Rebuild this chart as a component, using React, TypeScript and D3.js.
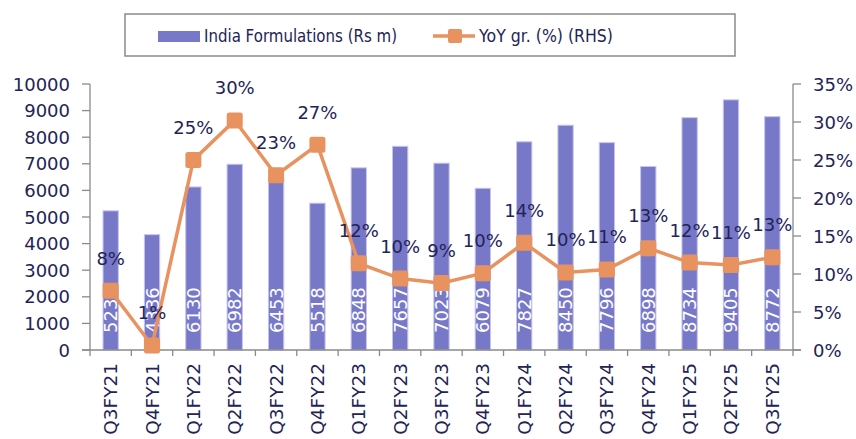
import React from "react";
import * as d3 from "d3";

const categories = ["Q3FY21","Q4FY21","Q1FY22","Q2FY22","Q3FY22","Q4FY22","Q1FY23","Q2FY23","Q3FY23","Q4FY23","Q1FY24","Q2FY24","Q3FY24","Q4FY24","Q1FY25","Q2FY25","Q3FY25"];
const formulations = [5232,4336,6130,6982,6453,5518,6848,7657,7023,6079,7827,8450,7796,6898,8734,9405,8772];
const yoy = [7.8,0.6,25.0,30.2,23.0,27.0,11.4,9.4,8.8,10.1,14.1,10.2,10.6,13.4,11.5,11.2,12.2];
const yoyLabels = ["8%","1%","25%","30%","23%","27%","12%","10%","9%","10%","14%","10%","11%","13%","12%","11%","13%"];
const leftTicks = [0,1000,2000,3000,4000,5000,6000,7000,8000,9000,10000];
const rightTicks = [0,5,10,15,20,25,30,35];

const BAR = "#7878C9";
const ORANGE = "#E8925F";
const TEXT = "#232357";
const AXIS = "#8a8a8a";
const FONT = "DejaVu Sans, sans-serif";

export default function App() {
  const W = 856, H = 439;
  const x0 = 90, x1 = 793, yTop = 84, yBot = 350;
  const x = d3.scaleBand<string>().domain(categories).range([x0, x1]).paddingInner(0).paddingOuter(0);
  const yL = d3.scaleLinear().domain([0, 10000]).range([yBot, yTop]);
  const yR = d3.scaleLinear().domain([0, 35]).range([yBot, yTop]);
  const bw = x.bandwidth() * 0.37;
  const cx = (c: string) => (x(c) as number) + x.bandwidth() / 2;
  const line = d3.line<number>().x((_, i) => cx(categories[i])).y((v) => yR(v));
  const ms = 16;
  return (
    <svg width={W} height={H} style={{ position: "absolute", left: 0, top: 0, background: "#fff" }} fontFamily={FONT}>
      {/* legend */}
      <rect x={125} y={14} width={610} height={42} fill="#fff" stroke={AXIS} strokeWidth={1.5} />
      <rect x={158} y={31} width={42} height={11} fill={BAR} />
      <text x={204} y={42} fontSize={18} fill={TEXT} textLength={193} lengthAdjust="spacingAndGlyphs">India Formulations (Rs m)</text>
      <line x1={433} x2={475} y1={36} y2={36} stroke={ORANGE} strokeWidth={3.5} />
      <rect x={448} y={29} width={14} height={14} rx={2} fill={ORANGE} />
      <text x={479} y={42} fontSize={18} fill={TEXT} textLength={134} lengthAdjust="spacingAndGlyphs">YoY gr. (%) (RHS)</text>

      {/* bars */}
      {formulations.map((v, i) => (
        <rect key={i} x={cx(categories[i]) - bw / 2} y={yL(v)} width={bw} height={yBot - yL(v)} fill={BAR} stroke="#c4c4ee" strokeWidth={1} />
      ))}
      {formulations.map((v, i) => (
        <text key={i} transform={`translate(${cx(categories[i]) + 6.5},${yBot - 17}) rotate(-90)`} fontSize={18} fill="#fff" textAnchor="start">{v}</text>
      ))}

      {/* axes */}
      <line x1={x0} x2={x0} y1={yTop} y2={yBot} stroke={AXIS} strokeWidth={1.3} />
      <line x1={x1} x2={x1} y1={yTop} y2={yBot} stroke={AXIS} strokeWidth={1.3} />
      <line x1={x0 - 8} x2={x1 + 8} y1={yBot} y2={yBot} stroke={AXIS} strokeWidth={1.3} />
      {leftTicks.map((t) => (
        <g key={t}>
          <line x1={x0 - 8} x2={x0} y1={yL(t)} y2={yL(t)} stroke={AXIS} strokeWidth={1.3} />
          <text x={70} y={yL(t) + 6.5} fontSize={18} fill={TEXT} textAnchor="end">{t}</text>
        </g>
      ))}
      {rightTicks.map((t) => (
        <g key={t}>
          <line x1={x1} x2={x1 + 8} y1={yR(t)} y2={yR(t)} stroke={AXIS} strokeWidth={1.3} />
          <text x={813} y={yR(t) + 6.5} fontSize={18} fill={TEXT} textAnchor="start">{t}%</text>
        </g>
      ))}
      {categories.map((c) => (
        <line key={c} x1={x(c) as number} x2={x(c) as number} y1={yBot} y2={yBot + 6} stroke={AXIS} strokeWidth={1.3} />
      ))}
      <line x1={x1} x2={x1} y1={yBot} y2={yBot + 6} stroke={AXIS} strokeWidth={1.3} />
      {categories.map((c) => (
        <text key={c} transform={`translate(${cx(c) + 6.5},${363}) rotate(-90)`} fontSize={18.5} fill={TEXT} textAnchor="end">{c}</text>
      ))}

      {/* line */}
      <path d={line(yoy) as string} fill="none" stroke={ORANGE} strokeWidth={3.5} />
      {yoy.map((v, i) => (
        <rect key={i} x={cx(categories[i]) - ms / 2} y={yR(v) - ms / 2} width={ms} height={ms} rx={2.5} fill={ORANGE} />
      ))}
      {yoy.map((v, i) => (
        <text key={i} x={cx(categories[i])} y={yR(v) - 26} fontSize={18} fill={TEXT} textAnchor="middle">{yoyLabels[i]}</text>
      ))}
    </svg>
  );
}
